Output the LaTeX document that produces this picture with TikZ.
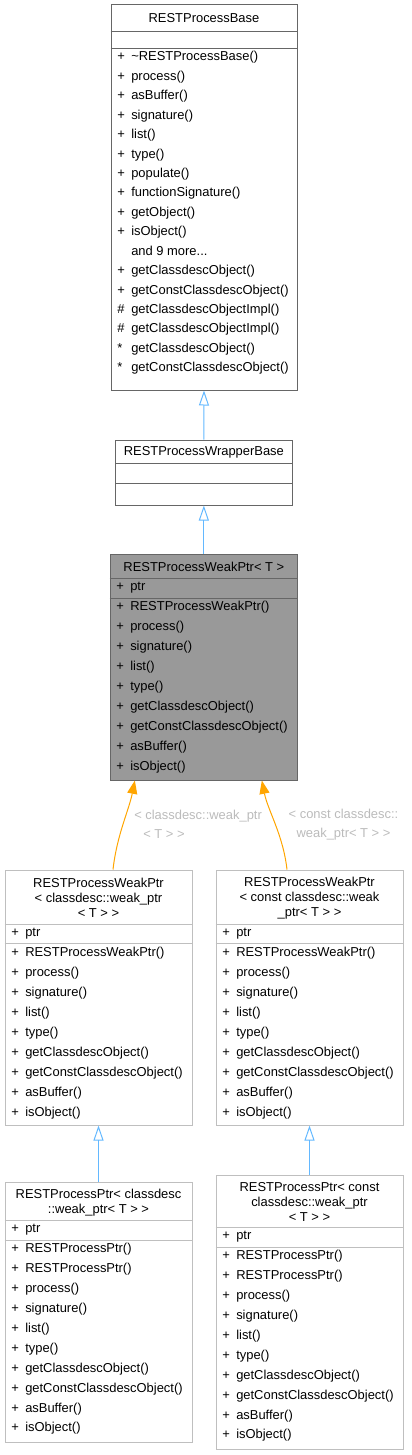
\documentclass[tikz,border=0pt]{standalone}
\usepackage{fontspec}
\setmainfont{Liberation Sans}
\usepackage{tikz}
\usetikzlibrary{arrows.meta}
\usetikzlibrary{fit}
\usetikzlibrary{calc}
\definecolor{edgeblue}{HTML}{63B8FF}
\definecolor{edgeorange}{HTML}{FFA500}
\definecolor{boxgray}{HTML}{666666}
\definecolor{lightbox}{HTML}{BFBFBF}
\definecolor{fillgray}{HTML}{999999}
\definecolor{labelgray}{HTML}{BBBBBB}
\newcommand{\vis}[1]{\makebox[10.5pt][l]{#1}}
\newcommand{\moremembers}{and 9 more...}

\begin{document}
\begin{tikzpicture}[x=0.75pt, y=-0.75pt,
		font=\fontsize{9.7pt}{11.25pt}\selectfont,
		classbox/.style={rectangle,draw=boxgray,fill=white,line width=0.75pt,inner sep=0pt},
		lightclass/.style={classbox,draw=lightbox},
		activeclass/.style={classbox,fill=fillgray},
		sep/.style={draw=boxgray,line width=0.75pt},
		lightsep/.style={draw=lightbox,line width=0.75pt},
		title/.style={align=center,inner sep=0pt},
		member/.style={anchor=west,inner sep=0pt,text height=7pt,text depth=2pt},
		inherit/.style={draw=edgeblue,line width=0.75pt,-{Triangle[open,length=11.25pt,width=7.5pt]}},
		usedby/.style={draw=edgeorange,line width=0.75pt,-{Triangle[length=10pt,width=7.5pt]}},
		edgelabel/.style={text=labelgray,inner sep=0pt,font=\fontsize{9.7pt}{14.25pt}\selectfont}
		]
		\useasboundingbox (0,0) rectangle (411,1455);

		\node[classbox, fit={(111,5) (297,390)}] (base) {};
		\node[title] (base title) at (base.north |- 0,18) {RESTProcessBase};
		\draw[sep] (base.west |- 0,32) -- (base.east |- 0,32);
		\draw[sep] (base.west |- 0,49) -- (base.east |- 0,49);
		\foreach \m [count=\i from 0] in {\vis{+}\textasciitilde RESTProcessBase(), \vis{+}process(), \vis{+}asBuffer(),
			\vis{+}signature(), \vis{+}list(), \vis{+}type(), \vis{+}populate(), \vis{+}functionSignature(),
			\vis{+}getObject(), \vis{+}isObject(), \vis{}\moremembers, \vis{+}getClassdescObject(),
			\vis{+}getConstClassdescObject(), \vis{\#}getClassdescObjectImpl(), \vis{\#}getClassdescObjectImpl(),
			\vis{*}getClassdescObject(), \vis{*}getConstClassdescObject()}
			\node[member] (base m\i) at (117,57.5+\i*19.44) {\m};

		\node[classbox, fit={(115.7,440) (292,505)}] (wrap) {};
		\node[title] (wrap title) at (wrap.north |- 0,452.5) {RESTProcessWrapperBase};
		\draw[sep] (wrap.west |- 0,463) -- (wrap.east |- 0,463);
		\draw[sep] (wrap.west |- 0,483) -- (wrap.east |- 0,483);

		\node[activeclass, fit={(110,554.7) (297.7,780)}] (weak) {};
		\node[title] (weak title) at (weak.north |- 0,567) {RESTProcessWeakPtr< T >};
		\draw[sep] (weak.west |- 0,578.7) -- (weak.east |- 0,578.7);
		\draw[sep] (weak.west |- 0,598) -- (weak.east |- 0,598);
		\node[member] (weak ptr) at (116,587.5) {\vis{+}ptr};
		\foreach \m [count=\i from 0] in {\vis{+}RESTProcessWeakPtr(), \vis{+}process(), \vis{+}signature(),
			\vis{+}list(), \vis{+}type(), \vis{+}getClassdescObject(), \vis{+}getConstClassdescObject(),
			\vis{+}asBuffer(), \vis{+}isObject()}
			\node[member] (weak m\i) at (116,607+\i*20) {\m};

		\node[lightclass, fit={(5,870) (192,1125)}] (wl) {};
		\node[title] (wl title) at (wl.north |- 0,898) {RESTProcessWeakPtr\\< classdesc::weak\_ptr\\< T > >};
		\node[lightclass, fit={(216,870) (403,1125)}] (wr) {};
		\node[title] (wr title) at (wr.north |- 0,898) {RESTProcessWeakPtr\\< const classdesc::weak\\\_ptr< T > >};
		\foreach \b/\x in {wl/11,wr/222} {
			\draw[lightsep] (\b.west |- 0,924) -- (\b.east |- 0,924);
			\draw[lightsep] (\b.west |- 0,943) -- (\b.east |- 0,943);
			\node[member] (\b\space ptr) at (\x,933.5) {\vis{+}ptr};
			\foreach \m [count=\i from 0] in {\vis{+}RESTProcessWeakPtr(), \vis{+}process(), \vis{+}signature(),
				\vis{+}list(), \vis{+}type(), \vis{+}getClassdescObject(), \vis{+}getConstClassdescObject(),
				\vis{+}asBuffer(), \vis{+}isObject()}
				\node[member] (\b\space m\i) at (\x,953+\i*20) {\m};
		}

		\node[lightclass, fit={(5,1182) (192,1442)}] (pl) {};
		\node[title] (pl title) at (pl.north |- 0,1202.5) {RESTProcessPtr< classdesc\\::weak\_ptr< T > >};
		\node[lightclass, fit={(216,1175) (403,1449)}] (pr) {};
		\node[title] (pr title) at (pr.north |- 0,1202) {RESTProcessPtr< const\\classdesc::weak\_ptr\\< T > >};
		\foreach \b/\x/\y in {pl/11/1220,pr/222/1227} {
			\draw[lightsep] (\b.west |- 0,\y) -- (\b.east |- 0,\y);
			\draw[lightsep] (\b.west |- 0,\y+20) -- (\b.east |- 0,\y+20);
			\node[member] (\b\space ptr) at (\x,\y+9.5) {\vis{+}ptr};
			\foreach \m [count=\i from 0] in {\vis{+}RESTProcessPtr(), \vis{+}RESTProcessPtr(), \vis{+}process(),
				\vis{+}signature(), \vis{+}list(), \vis{+}type(), \vis{+}getClassdescObject(),
				\vis{+}getConstClassdescObject(), \vis{+}asBuffer(), \vis{+}isObject()}
				\node[member] (\b\space m\i) at (\x,\y+29+\i*19.96) {\m};
		}

		\draw[inherit] (wrap.north) -- (base.south);
		\draw[inherit] (weak.north) -- (wrap.south);
		\draw[inherit] (pl.north) -- (wl.south);
		\draw[inherit] (pr.north) -- (wr.south);
		\draw[usedby] ($(wl.north)+(14.5,0)$) .. controls +(4,-35) and +(-6,30) .. ($(weak.south)+(-69,0)$);
		\draw[usedby] ($(wr.north)+(-22.5,0)$) .. controls +(-4,-35) and +(6,30) .. ($(weak.south)+(58,0)$);
		\node[edgelabel, anchor=west, align=left] (wl label) at (134,824.5) {< classdesc::weak\_ptr\\\hspace*{6.75pt}< T > >};
		\node[edgelabel, align=center] (wr label) at (343.5,824.5) {< const classdesc::\\weak\_ptr< T > >};
\end{tikzpicture}
\end{document}
